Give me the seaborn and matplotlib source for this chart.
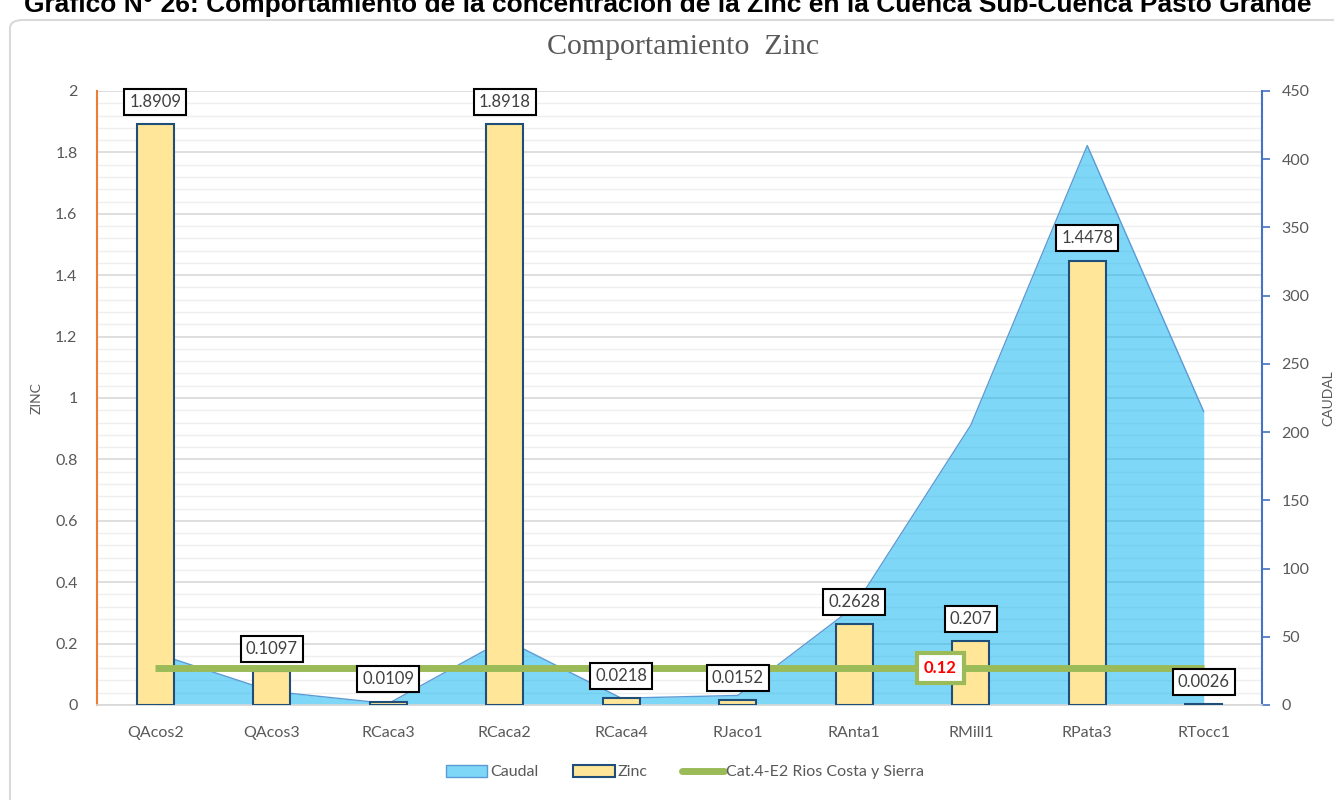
import numpy as np
import matplotlib
matplotlib.use("Agg")
import matplotlib.pyplot as plt
import seaborn as sns
from matplotlib.patches import Patch, FancyBboxPatch
from matplotlib.lines import Line2D
from matplotlib.ticker import MultipleLocator, FuncFormatter

# data
stations = ["QAcos2", "QAcos3", "RCaca3", "RCaca2", "RCaca4",
            "RJaco1", "RAnta1", "RMill1", "RPata3", "RTocc1"]
zinc = [1.8909, 0.1097, 0.0109, 1.8918, 0.0218, 0.0152, 0.2628, 0.207, 1.4478, 0.0026]
caudal = [38, 10, 1, 48, 5, 7, 72, 205, 410, 215]
limite = [0.12] * len(stations)
limite_label = "0.12"

sns.set_theme(style="white")
plt.rcParams["font.family"] = ["Lato", "DejaVu Sans"]

grey = "#595959"
fig = plt.figure(figsize=(13.34, 8), dpi=100)
rect = [97 / 1334, 1 - 705 / 800, 1165 / 1334, 614 / 800]

# bottom layer: gridlines only (zinc scale)
axg = fig.add_axes(rect)
axg.set_xlim(-0.5, len(stations) - 0.5)
axg.set_ylim(0, 2)
axg.yaxis.set_major_locator(MultipleLocator(0.2))
axg.yaxis.set_minor_locator(MultipleLocator(0.04))
axg.grid(axis="y", which="major", color="#D9D9D9", lw=1.2)
axg.grid(axis="y", which="minor", color="#EFEFEF", lw=1)
axg.grid(axis="x", visible=False)
axg.set_xticks([])
axg.tick_params(axis="y", which="both", length=0, labelleft=False)
for s in axg.spines.values():
    s.set_visible(False)

# middle layer: caudal area (right axis)
ax = fig.add_axes(rect)
ax2 = ax.twinx()
axg.set_zorder(0)
ax2.set_zorder(1)
ax.set_zorder(2)
ax.patch.set_visible(False)
ax2.patch.set_visible(False)

x = np.arange(len(stations))
ax2.fill_between(x, caudal, color="#00B0F0", alpha=0.5, linewidth=0)
sns.lineplot(x=x, y=caudal, ax=ax2, color="#5B9BD5", linewidth=1)
ax2.set_ylim(0, 450)
ax2.yaxis.set_major_locator(MultipleLocator(50))

# top layer: zinc bars, limit line, labels
sns.barplot(x=stations, y=zinc, ax=ax, color="#FFE699", saturation=1,
            edgecolor="#1F4E79", linewidth=1.5, width=0.32, zorder=3)
sns.lineplot(x=x, y=limite, ax=ax, color="#9BBB59", linewidth=5, zorder=4)
ax.lines[-1].set_solid_capstyle("butt")

for i, v in enumerate(zinc):
    ax.annotate(f"{v:g}", xy=(i, v), xytext=(0, 16), textcoords="offset points",
                ha="center", va="center", fontsize=12, color="#404040", zorder=6,
                bbox=dict(boxstyle="square,pad=0.3", fc="white", ec="black", lw=1.5))

ax.text(6.74, limite[7], limite_label, ha="center", va="center", fontsize=12,
        fontweight="bold", color="#FF0000", zorder=6,
        bbox=dict(boxstyle="square,pad=0.42", fc="white", ec="#9BBB59", lw=3))

ax.set_xlim(-0.5, len(stations) - 0.5)
ax.set_ylim(0, 2)
ax.yaxis.set_major_locator(MultipleLocator(0.2))
ax.yaxis.set_major_formatter(FuncFormatter(lambda v, p: f"{v:g}"))
ax.grid(False)
ax2.grid(False)

ax.set_xticks(np.arange(-0.5, len(stations), 1), minor=True)
ax.tick_params(axis="x", which="major", length=0, pad=15, labelsize=11.5, labelcolor=grey)
ax.tick_params(axis="x", which="minor", length=6, width=1, color="#BFBFBF", direction="out")
ax.tick_params(axis="y", which="both", length=0, pad=14, labelsize=11.5, labelcolor=grey)
ax2.tick_params(axis="y", length=6, width=1.2, color="#4472C4", direction="out",
                pad=8, labelsize=11.5, labelcolor=grey)

for a in (ax, ax2):
    for s in a.spines.values():
        s.set_visible(False)
ax.spines["left"].set_visible(True)
ax.spines["left"].set_color("#ED7D31")
ax.spines["left"].set_linewidth(1.5)
ax.spines["bottom"].set_visible(True)
ax.spines["bottom"].set_color("#D9D9D9")
ax2.spines["right"].set_visible(True)
ax2.spines["right"].set_color("#4472C4")
ax2.spines["right"].set_linewidth(1.5)

ax.set_xlabel("")
ax.set_ylabel("ZINC", fontsize=10, color=grey)
ax.yaxis.set_label_coords(-0.047, 0.5)
ax2.set_ylabel("CAUDAL", fontsize=10, color=grey)
ax2.yaxis.set_label_coords(1.0515, 0.5)

fig.text(683 / 1334, 1 - 47 / 800, "Comportamiento  Zinc", ha="center", va="center",
         fontsize=21.5, color=grey, family=["Liberation Serif", "DejaVu Serif"])

# heading of the page, cut off at the top edge as in the source
fig.text(1312 / 1334, 1 - 12 / 800,
         "Gráfico N° 26: Comportamiento de la concentración de la Zinc en la Cuenca Sub-Cuenca Pasto Grande",
         ha="right", va="baseline", fontsize=19, fontweight="bold", color="black",
         family=["Liberation Sans", "DejaVu Sans"])

# chart frame
fig.patches.append(FancyBboxPatch((10 / 1334, -0.05), 1.1, 1 - 20 / 800 + 0.05,
                                  boxstyle="round,pad=0,rounding_size=0.01",
                                  transform=fig.transFigure, fc="none", ec="#D9D9D9", lw=1.5))

handles = [Patch(fc="#7FD7F7", ec="#5B9BD5", lw=1),
           Patch(fc="#FFE699", ec="#1F4E79", lw=1.5),
           Line2D([], [], color="#9BBB59", lw=5)]
labels = ["Caudal", "Zinc", "Cat.4-E2 Rios Costa y Sierra"]
leg = fig.legend(handles, labels, loc="center", bbox_to_anchor=(685 / 1334, 1 - 772 / 800),
                 ncol=3, frameon=False, fontsize=11.5, handlelength=2.6, handleheight=0.8,
                 handletextpad=0.15, columnspacing=2.2)
for t in leg.get_texts():
    t.set_color(grey)

fig.savefig("out.png", dpi=100)
